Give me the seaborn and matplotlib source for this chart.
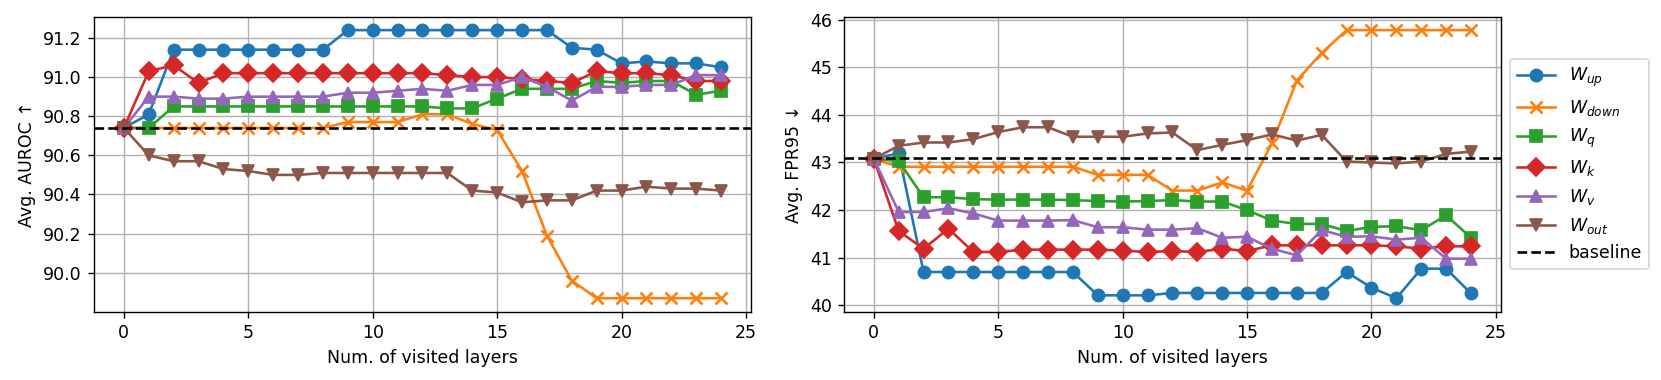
import matplotlib
matplotlib.use("Agg")
import matplotlib.pyplot as plt
import seaborn as sns
import numpy as np

layers = list(range(25))

# Avg. AUROC (left)
auroc_up = [90.74, 90.81, 91.14, 91.14, 91.14, 91.14, 91.14, 91.14, 91.14, 91.24, 91.24, 91.24, 91.24,
            91.24, 91.24, 91.24, 91.24, 91.24, 91.15, 91.14, 91.07, 91.08, 91.07, 91.07, 91.05]
auroc_down = [90.74, 90.74, 90.74, 90.74, 90.74, 90.74, 90.74, 90.74, 90.74, 90.77, 90.77, 90.77, 90.81,
              90.81, 90.76, 90.73, 90.52, 90.19, 89.96, 89.87, 89.87, 89.87, 89.87, 89.87, 89.87]
auroc_q = [90.74, 90.74, 90.85, 90.85, 90.85, 90.85, 90.85, 90.85, 90.85, 90.85, 90.85, 90.85, 90.85,
           90.84, 90.84, 90.89, 90.94, 90.94, 90.94, 90.98, 90.97, 90.98, 90.98, 90.91, 90.93]
auroc_k = [90.74, 91.03, 91.06, 90.97, 91.02, 91.02, 91.02, 91.02, 91.02, 91.02, 91.02, 91.02, 91.02,
           91.01, 91.00, 91.00, 90.99, 90.98, 90.97, 91.03, 91.02, 91.02, 91.01, 90.98, 90.98]
auroc_v = [90.74, 90.90, 90.90, 90.89, 90.89, 90.90, 90.90, 90.90, 90.90, 90.92, 90.92, 90.93, 90.94,
           90.93, 90.96, 90.96, 91.00, 90.95, 90.88, 90.95, 90.95, 90.96, 90.96, 91.01, 91.01]
auroc_out = [90.74, 90.60, 90.57, 90.57, 90.53, 90.52, 90.50, 90.50, 90.51, 90.51, 90.51, 90.51, 90.51,
             90.51, 90.42, 90.41, 90.36, 90.37, 90.37, 90.42, 90.42, 90.44, 90.43, 90.43, 90.42]
auroc_baseline = 90.74

# Avg. FPR95 (right)
fpr_up = [43.08, 43.19, 40.70, 40.70, 40.70, 40.70, 40.70, 40.70, 40.70, 40.21, 40.21, 40.21, 40.26,
          40.26, 40.26, 40.26, 40.26, 40.26, 40.26, 40.70, 40.37, 40.15, 40.77, 40.77, 40.25]
fpr_down = [43.08, 42.91, 42.91, 42.91, 42.91, 42.91, 42.91, 42.91, 42.91, 42.74, 42.74, 42.74, 42.41,
            42.41, 42.58, 42.41, 43.40, 44.72, 45.30, 45.78, 45.78, 45.78, 45.78, 45.78, 45.78]
fpr_q = [43.08, 43.03, 42.27, 42.27, 42.23, 42.22, 42.22, 42.22, 42.21, 42.19, 42.18, 42.19, 42.21,
         42.18, 42.18, 42.00, 41.78, 41.71, 41.71, 41.56, 41.65, 41.66, 41.58, 41.89, 41.42]
fpr_k = [43.08, 41.56, 41.19, 41.61, 41.12, 41.12, 41.17, 41.17, 41.17, 41.17, 41.15, 41.12, 41.14,
         41.12, 41.19, 41.14, 41.26, 41.26, 41.26, 41.26, 41.26, 41.24, 41.19, 41.24, 41.24]
fpr_v = [43.08, 41.96, 41.96, 42.04, 41.93, 41.78, 41.78, 41.78, 41.79, 41.64, 41.64, 41.59, 41.59,
         41.62, 41.42, 41.44, 41.19, 41.05, 41.58, 41.44, 41.45, 41.38, 41.42, 40.98, 40.98]
fpr_out = [43.08, 43.35, 43.42, 43.42, 43.49, 43.64, 43.74, 43.74, 43.54, 43.54, 43.54, 43.61, 43.63,
           43.26, 43.37, 43.47, 43.59, 43.46, 43.58, 43.02, 43.00, 42.98, 43.02, 43.18, 43.23]
fpr_baseline = 43.09

names = ["$W_{up}$", "$W_{down}$", "$W_q$", "$W_k$", "$W_v$", "$W_{out}$"]
markers = ["o", "x", "s", "D", "^", "v"]
colors = sns.color_palette("tab10", 6)

plt.rcParams["font.size"] = 10

fig = plt.figure(figsize=(1661 / 125, 380 / 125), dpi=125)
ax1 = fig.add_axes([0.0566, 0.180, 0.3955, 0.776])
ax2 = fig.add_axes([0.5081, 0.180, 0.3955, 0.776])

auroc = [auroc_up, auroc_down, auroc_q, auroc_k, auroc_v, auroc_out]
fpr = [fpr_up, fpr_down, fpr_q, fpr_k, fpr_v, fpr_out]

for ax, data, base, ylab in [(ax1, auroc, auroc_baseline, "Avg. AUROC ↑"),
                             (ax2, fpr, fpr_baseline, "Avg. FPR95 ↓")]:
    ax.grid(True, color="#b0b0b0", linewidth=0.8)
    ax.set_axisbelow(True)
    for vals, name, m, c in zip(data, names, markers, colors):
        sns.lineplot(x=layers, y=vals, marker=m, color=c, label=name, ax=ax,
                     markersize=7, markeredgecolor=c if m != "x" else None,
                     markeredgewidth=1.5 if m == "x" else 1.0, linewidth=1.5)
    ax.axhline(base, color="black", linestyle="--", linewidth=1.5, label="baseline")
    ax.set_xlabel("Num. of visited layers")
    ax.set_ylabel(ylab)
    ax.set_xticks([0, 5, 10, 15, 20, 25])
    for s in ax.spines.values():
        s.set_color("black")

ax1.set_yticks([90.0, 90.2, 90.4, 90.6, 90.8, 91.0, 91.2])
ax1.set_yticklabels(["90.0", "90.2", "90.4", "90.6", "90.8", "91.0", "91.2"])
ax1.get_legend().remove()
ax2.set_yticks([40, 41, 42, 43, 44, 45, 46])
ax2.get_legend().remove()
handles, labels = ax2.get_legend_handles_labels()
ax2.legend(handles, labels, loc="center left", bbox_to_anchor=(1, 0.5), handlelength=2.2)

fig.savefig("out.png", dpi=125)
